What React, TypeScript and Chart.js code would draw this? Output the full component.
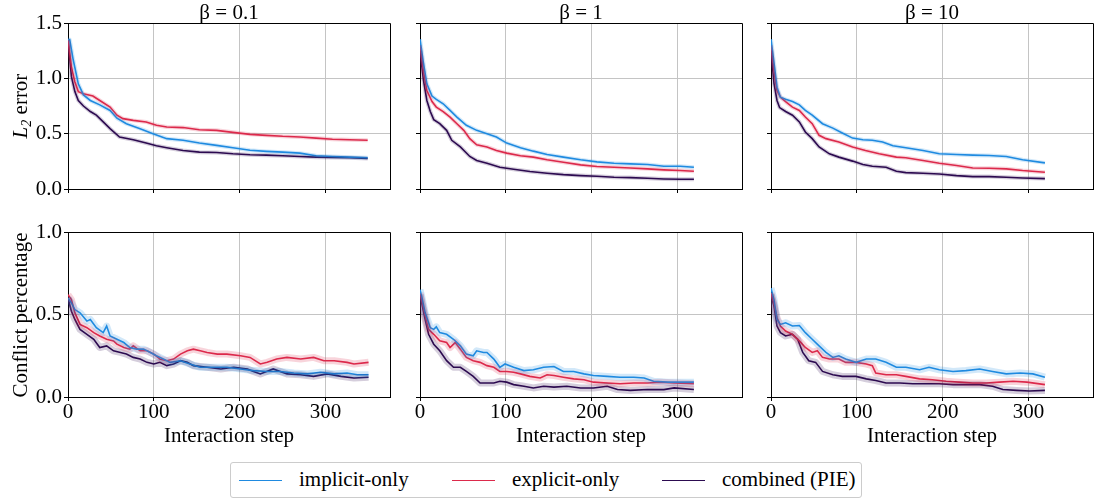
import React, { useEffect, useRef } from 'react';
import { Chart, registerables } from 'chart.js';

Chart.register(...registerables);

// ---------------- data ----------------
const betaTitles = ['β = 0.1', 'β = 1', 'β = 10'];
const seriesNames = ['implicit-only', 'explicit-only', 'combined (PIE)'];
const xTicks = [0, 100, 200, 300];
const l2Ticks = [0, 0.5, 1.0, 1.5];
const conflictTicks = [0, 0.5, 1.0];

type P = [number, number][];

// L2 error, beta = 0.1
const l2B01Implicit: P = [[0,1.35],[2,1.35],[6,1.17],[12,0.95],[18,0.85],[26,0.80],[37,0.76],[49,0.71],[57,0.64],[68,0.59],[84,0.545],[99,0.50],[115,0.455],[134,0.44],[153,0.415],[173,0.394],[192,0.373],[212,0.35],[231,0.34],[250,0.333],[270,0.324],[289,0.30],[308,0.294],[328,0.288],[349,0.282]];
const l2B01Explicit: P = [[0,1.35],[4,1.1],[8,0.97],[12,0.88],[18,0.86],[29,0.84],[37,0.80],[49,0.74],[57,0.667],[64,0.636],[76,0.62],[91,0.606],[103,0.576],[115,0.56],[134,0.555],[153,0.536],[173,0.53],[192,0.512],[212,0.494],[231,0.485],[250,0.476],[270,0.47],[289,0.46],[308,0.45],[328,0.445],[349,0.44]];
const l2B01Combined: P = [[0,1.35],[4,1.015],[8,0.88],[12,0.80],[18,0.75],[26,0.70],[33,0.667],[41,0.606],[49,0.545],[60,0.47],[76,0.445],[91,0.415],[103,0.39],[115,0.373],[134,0.348],[153,0.333],[173,0.33],[192,0.318],[212,0.31],[231,0.306],[250,0.30],[270,0.294],[289,0.288],[308,0.285],[328,0.282],[349,0.276]];

// L2 error, beta = 1
const l2B1Implicit: P = [[0,1.354],[4,1.14],[8,0.95],[14,0.84],[19,0.81],[27,0.77],[35,0.71],[43,0.65],[54,0.576],[66,0.53],[78,0.50],[89,0.47],[101,0.415],[117,0.373],[132,0.342],[148,0.312],[167,0.288],[187,0.264],[206,0.245],[226,0.233],[245,0.227],[265,0.221],[284,0.206],[303,0.206],[319,0.197]];
const l2B1Explicit: P = [[0,1.30],[4,1.06],[8,0.89],[14,0.79],[19,0.74],[27,0.70],[35,0.65],[43,0.59],[51,0.53],[58,0.455],[66,0.40],[78,0.38],[89,0.348],[101,0.324],[117,0.30],[132,0.288],[148,0.264],[167,0.242],[187,0.218],[206,0.203],[226,0.197],[245,0.19],[265,0.182],[284,0.173],[303,0.167],[319,0.16]];
const l2B1Combined: P = [[0,1.25],[4,0.985],[8,0.80],[12,0.70],[16,0.627],[23,0.59],[31,0.53],[37,0.44],[47,0.38],[58,0.294],[66,0.258],[78,0.233],[93,0.197],[109,0.179],[128,0.158],[148,0.142],[167,0.13],[187,0.121],[206,0.115],[226,0.106],[245,0.103],[265,0.097],[284,0.091],[303,0.088],[319,0.088]];

// L2 error, beta = 10
const l2B10Implicit: P = [[0,1.354],[3.5,1.14],[7,0.92],[11,0.83],[17,0.81],[25,0.79],[33,0.76],[40,0.71],[48,0.667],[60,0.59],[72,0.55],[83,0.506],[95,0.46],[107,0.445],[118,0.44],[130,0.424],[142,0.39],[157,0.373],[177,0.348],[196,0.318],[216,0.312],[235,0.306],[254,0.303],[274,0.294],[293,0.264],[319,0.236]];
const l2B10Explicit: P = [[0,1.30],[3.5,1.06],[7,0.89],[11,0.83],[17,0.79],[25,0.74],[33,0.71],[40,0.65],[48,0.59],[56,0.485],[64,0.455],[79,0.424],[95,0.38],[110,0.348],[126,0.318],[146,0.288],[157,0.282],[177,0.258],[196,0.233],[216,0.212],[235,0.19],[254,0.188],[274,0.182],[293,0.167],[319,0.152]];
const l2B10Combined: P = [[0,1.25],[3.5,0.955],[7,0.80],[10,0.736],[17,0.70],[25,0.667],[33,0.606],[40,0.515],[48,0.455],[56,0.38],[68,0.318],[79,0.288],[95,0.252],[107,0.221],[118,0.206],[134,0.197],[146,0.16],[157,0.148],[177,0.142],[196,0.136],[216,0.121],[235,0.112],[254,0.112],[274,0.106],[293,0.10],[319,0.094]];

// Conflict percentage, beta = 0.1
const cfB01Implicit: P = [[0,0.60],[4,0.57],[8,0.53],[14,0.51],[22,0.46],[26,0.47],[33,0.42],[41,0.39],[45,0.43],[49,0.37],[57,0.35],[65,0.33],[72,0.30],[80,0.29],[88,0.29],[96,0.27],[103,0.25],[111,0.23],[119,0.21],[131,0.22],[142,0.20],[154,0.18],[170,0.18],[185,0.18],[201,0.17],[216,0.16],[232,0.155],[247,0.155],[263,0.145],[279,0.14],[294,0.15],[310,0.14],[325,0.145],[337,0.135],[350,0.135]];
const cfB01Explicit: P = [[0,0.62],[4,0.59],[8,0.51],[14,0.44],[22,0.42],[30,0.39],[37,0.37],[45,0.35],[53,0.34],[57,0.32],[65,0.30],[72,0.29],[76,0.31],[84,0.28],[92,0.28],[100,0.26],[107,0.23],[115,0.22],[123,0.23],[131,0.26],[139,0.28],[146,0.29],[154,0.28],[162,0.27],[174,0.26],[185,0.26],[201,0.25],[212,0.24],[224,0.20],[232,0.21],[243,0.23],[255,0.24],[271,0.23],[286,0.24],[298,0.22],[310,0.22],[325,0.21],[333,0.20],[350,0.21]];
const cfB01Combined: P = [[0,0.60],[4,0.52],[8,0.47],[14,0.41],[22,0.38],[30,0.35],[37,0.30],[45,0.31],[53,0.28],[61,0.27],[68,0.26],[76,0.24],[84,0.23],[92,0.21],[100,0.20],[107,0.21],[115,0.19],[123,0.20],[131,0.22],[139,0.21],[146,0.19],[162,0.18],[178,0.17],[193,0.18],[209,0.17],[216,0.155],[224,0.14],[239,0.17],[255,0.14],[271,0.135],[286,0.125],[302,0.14],[318,0.125],[333,0.115],[350,0.12]];

// Conflict percentage, beta = 1
const cfB1Implicit: P = [[0,0.65],[2,0.61],[6,0.51],[12,0.42],[16,0.41],[19,0.425],[23,0.39],[31,0.38],[39,0.35],[47,0.31],[54,0.26],[62,0.25],[66,0.28],[74,0.27],[78,0.27],[86,0.23],[93,0.18],[99,0.20],[109,0.18],[121,0.16],[132,0.165],[144,0.18],[156,0.185],[167,0.155],[179,0.155],[191,0.14],[202,0.13],[218,0.125],[233,0.12],[249,0.12],[261,0.115],[272,0.095],[288,0.09],[303,0.09],[319,0.09]];
const cfB1Explicit: P = [[0,0.63],[6,0.49],[10,0.41],[16,0.38],[23,0.34],[31,0.33],[35,0.30],[41,0.33],[47,0.29],[54,0.24],[62,0.22],[70,0.21],[78,0.19],[86,0.18],[93,0.155],[101,0.155],[109,0.15],[117,0.14],[128,0.125],[140,0.115],[148,0.135],[156,0.13],[167,0.12],[179,0.11],[191,0.105],[202,0.09],[218,0.085],[233,0.08],[249,0.085],[265,0.085],[280,0.09],[296,0.085],[319,0.08]];
const cfB1Combined: P = [[0,0.62],[6,0.47],[10,0.38],[16,0.32],[23,0.28],[31,0.22],[39,0.18],[47,0.18],[54,0.155],[62,0.125],[70,0.085],[78,0.085],[86,0.085],[93,0.095],[101,0.09],[109,0.075],[121,0.065],[132,0.055],[144,0.065],[156,0.06],[171,0.065],[187,0.055],[202,0.055],[218,0.065],[230,0.045],[245,0.04],[265,0.045],[284,0.045],[296,0.055],[319,0.045]];

// Conflict percentage, beta = 10
const cfB10Implicit: P = [[0,0.66],[3.5,0.59],[7,0.47],[11,0.44],[17,0.45],[25,0.43],[33,0.433],[40,0.39],[48,0.35],[56,0.31],[64,0.27],[72,0.24],[79,0.25],[87,0.23],[99,0.21],[111,0.23],[122,0.23],[134,0.21],[146,0.18],[157,0.18],[173,0.165],[184,0.18],[196,0.165],[212,0.155],[227,0.16],[243,0.17],[258,0.155],[274,0.14],[290,0.145],[305,0.14],[319,0.12]];
const cfB10Explicit: P = [[0,0.63],[3.5,0.56],[7,0.48],[11,0.43],[17,0.40],[25,0.38],[33,0.34],[40,0.30],[48,0.27],[54,0.28],[60,0.24],[68,0.23],[79,0.23],[87,0.21],[99,0.21],[111,0.20],[118,0.19],[122,0.145],[134,0.135],[146,0.135],[157,0.125],[173,0.11],[188,0.105],[204,0.095],[219,0.09],[235,0.085],[251,0.085],[266,0.09],[282,0.095],[298,0.09],[319,0.075]];
const cfB10Combined: P = [[0,0.62],[3.5,0.55],[7,0.43],[11,0.39],[17,0.37],[25,0.38],[31,0.35],[37,0.27],[44,0.22],[52,0.21],[60,0.155],[72,0.135],[83,0.125],[99,0.125],[111,0.11],[122,0.10],[134,0.085],[150,0.085],[165,0.08],[181,0.08],[196,0.08],[212,0.075],[227,0.075],[243,0.075],[258,0.065],[270,0.045],[286,0.04],[301,0.036],[319,0.04]];

// ---------------- styling ----------------
const FONT = '"Liberation Serif", "Times New Roman", "DejaVu Serif", serif';
const FS = 21;
const COLORS = ['#1f8ae0', '#dc2a4b', '#2c0b50'];
const BANDS = ['rgba(31,138,224,0.2)', 'rgba(220,42,75,0.2)', 'rgba(44,11,80,0.2)'];
const GRID = '#c4c4c4';
const X_MAX = 375;

const PLOT_LEFTS = [68, 420, 771];
const PLOT_W = 322;
const PLOT_TOPS = [23, 232];
const PLOT_HS = [166, 165];

const framePlugin = {
  id: 'frame',
  afterDraw(chart: any) {
    const { ctx, chartArea } = chart;
    const { left, right, top, bottom } = chartArea;
    const a = (p: number) => Math.round(p - 0.5) + 0.5;
    ctx.save();
    ctx.strokeStyle = '#000';
    ctx.lineWidth = 1;
    ctx.beginPath();
    ctx.moveTo(a(left), a(top));
    ctx.lineTo(a(right), a(top));
    ctx.lineTo(a(right), a(bottom));
    ctx.stroke();
    ctx.restore();
  },
};

function Panel({ row, col, series }: { row: number; col: number; series: P[] }) {
  const ref = useRef<HTMLCanvasElement | null>(null);
  const yW = col === 0 ? 68 : 10;
  const topPad = row === 0 ? 23 : 14;
  const xH = row === 0 ? 14 : 30;
  const plotH = PLOT_HS[row];
  const width = yW + PLOT_W + 2;
  const height = topPad + plotH + xH;
  const left = PLOT_LEFTS[col] - yW;
  const top = PLOT_TOPS[row] - topPad;
  const yTicks = row === 0 ? l2Ticks : conflictTicks;
  const yMax = row === 0 ? 1.5 : 1.0;
  const bandW = row === 0 ? 4 : 7;

  useEffect(() => {
    if (!ref.current) return;
    const pts = (s: P) => s.map(([x, y]) => ({ x, y }));
    const bands = series.map((s, i) => ({
      data: pts(s),
      borderColor: BANDS[i],
      borderWidth: bandW,
      borderJoinStyle: 'round' as const,
      pointRadius: 0,
      tension: 0,
      fill: false,
    }));
    const lines = series.map((s, i) => ({
      label: seriesNames[i],
      data: pts(s),
      borderColor: COLORS[i],
      borderWidth: 1.6,
      pointRadius: 0,
      tension: 0,
      fill: false,
    }));
    const font = { family: FONT, size: FS, lineHeight: 1 };
    const chart = new Chart(ref.current, {
      type: 'line',
      data: { datasets: [...bands, ...lines] as any },
      options: {
        animation: false,
        responsive: false,
        events: [],
        layout: { padding: { top: topPad, right: 2, left: 0, bottom: 0 } },
        plugins: { legend: { display: false }, tooltip: { enabled: false }, title: { display: false } },
        scales: {
          x: {
            type: 'linear',
            min: 0,
            max: X_MAX,
            afterBuildTicks: (s: any) => { s.ticks = xTicks.map((v) => ({ value: v })); },
            afterFit: (s: any) => { s.height = xH; },
            ticks: { display: row === 1, font, color: '#000', padding: 1, maxRotation: 0, callback: (v: any) => String(v) },
            grid: { color: GRID, lineWidth: 1, drawTicks: true, tickLength: 4, tickColor: '#000' },
            border: { display: true, color: '#000', width: 1 },
          },
          y: {
            type: 'linear',
            min: 0,
            max: yMax,
            afterBuildTicks: (s: any) => { s.ticks = yTicks.map((v) => ({ value: v })); },
            afterFit: (s: any) => { s.width = yW; },
            ticks: { display: col === 0, font, color: '#000', padding: 2, callback: (v: any) => Number(v).toFixed(1) },
            grid: { color: GRID, lineWidth: 1, drawTicks: true, tickLength: 4, tickColor: '#000' },
            border: { display: true, color: '#000', width: 1 },
          },
        },
      } as any,
      plugins: [framePlugin],
    });
    return () => chart.destroy();
  }, []);

  return (
    <canvas
      ref={ref}
      width={width}
      height={height}
      style={{ position: 'absolute', left, top, width, height }}
    />
  );
}

const textBase: React.CSSProperties = {
  position: 'absolute',
  fontFamily: FONT,
  fontSize: FS,
  lineHeight: `${FS}px`,
  color: '#000',
  whiteSpace: 'nowrap',
};

export default function App() {
  const panels: P[][][] = [
    [
      [l2B01Implicit, l2B01Explicit, l2B01Combined],
      [l2B1Implicit, l2B1Explicit, l2B1Combined],
      [l2B10Implicit, l2B10Explicit, l2B10Combined],
    ],
    [
      [cfB01Implicit, cfB01Explicit, cfB01Combined],
      [cfB1Implicit, cfB1Explicit, cfB1Combined],
      [cfB10Implicit, cfB10Explicit, cfB10Combined],
    ],
  ];
  const legendX = [
    { line: 239, text: 299 },
    { line: 452, text: 512 },
    { line: 662, text: 722 },
  ];
  return (
    <div style={{ position: 'fixed', left: 0, top: 0, width: 1094, height: 499, background: '#fff', overflow: 'hidden' }}>
      {panels.map((rowSeries, r) =>
        rowSeries.map((s, c) => <Panel key={`${r}-${c}`} row={r} col={c} series={s} />)
      )}
      {betaTitles.map((t, c) => (
        <div key={t} style={{ ...textBase, left: PLOT_LEFTS[c] + PLOT_W / 2, top: 1.5, transform: 'translateX(-50%)' }}>{t}</div>
      ))}
      {[0, 1, 2].map((c) => (
        <div key={c} style={{ ...textBase, left: PLOT_LEFTS[c] + PLOT_W / 2, top: 425, transform: 'translateX(-50%)' }}>Interaction step</div>
      ))}
      <div style={{ ...textBase, left: 21, top: 106, transform: 'translate(-50%, -50%) rotate(-90deg)' }}>
        <i>L</i><sub style={{ fontSize: 14, verticalAlign: 'baseline', position: 'relative', top: 4, fontStyle: 'italic' }}>2</sub> error
      </div>
      <div style={{ ...textBase, left: 20, top: 315, transform: 'translate(-50%, -50%) rotate(-90deg)' }}>Conflict percentage</div>
      <div style={{ position: 'absolute', left: 230, top: 462, width: 632, height: 36, border: '1px solid #cccccc', borderRadius: 3, boxSizing: 'border-box', background: '#fff' }} />
      {seriesNames.map((n, i) => (
        <React.Fragment key={n}>
          <div style={{ position: 'absolute', left: legendX[i].line, top: 480, width: 43, height: 0, borderTop: `1.6px solid ${COLORS[i]}` }} />
          <div style={{ ...textBase, left: legendX[i].text, top: 469 }}>{n}</div>
        </React.Fragment>
      ))}
    </div>
  );
}
